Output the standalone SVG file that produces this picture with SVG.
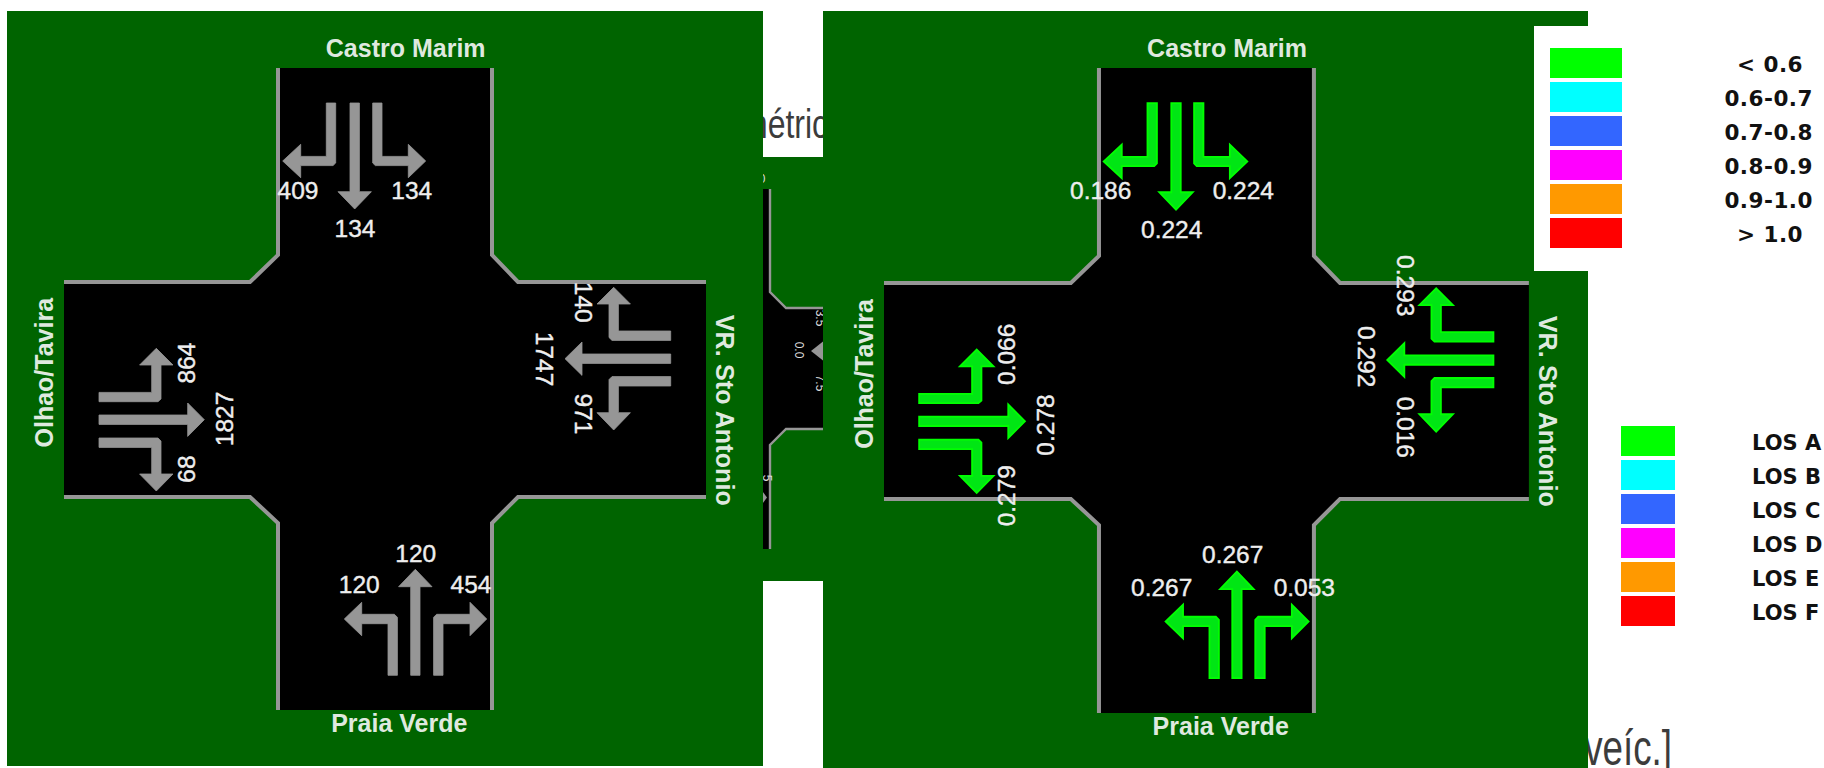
<svg xmlns="http://www.w3.org/2000/svg" xmlns:xlink="http://www.w3.org/1999/xlink" width="1824" height="768" viewBox="0 0 1824 768">
<style>
text{font-family:"Liberation Sans",Arial,sans-serif}
.panel{fill:#006400}
.pave{fill:#000}
.kerb{fill:none;stroke:#969696;stroke-width:4}
.num{fill:#eee;stroke:#eee;stroke-width:.4;font-size:24.5px;text-anchor:middle}
.road{fill:#dfe9df;font-size:25px;font-weight:bold;text-anchor:middle}
.small{fill:#ddd;font-size:12px;text-anchor:middle}
.body{fill:#3c3c3c;font-size:40px}
.lg{fill:#111;font-family:"DejaVu Sans",sans-serif;font-weight:bold;font-size:21px}
.c{text-anchor:middle;font-size:21.5px;letter-spacing:.5px}
.grey{fill:#969696}
.wide{stroke:#969696;stroke-width:.8}
.lit{fill:#00e614;stroke:#00ff00;stroke-width:1.8}
</style>
<defs>
<g id="roadway">
<path class="pave" d="M278 68H492V255L518 282H706V497H518L492 523V710H278V523L250 497H64V282H250L278 255Z"/>
<path class="kerb" d="M278 68V255L250 282H64M492 68V255L518 282H706M64 497H250L278 523V710M706 497H518L492 523V710"/>
</g>
<g id="flow">
<path d="M326.3 103H335.7V163L333 165.6H300.7V177.7L282.7 161L300.7 144.3V156.4H326.3Z"/>
<path d="M350 103H359.4V191.7H371.4L354.7 209L338 191.7H350Z"/>
<path d="M372.7 103H382V156.4H408.3V144.3L425.7 161L408.3 177.7V165.6H375.3L372.7 163Z"/>
<path d="M99 392.4H151.7V365H139.6L156.3 348.3L173 365H161V399L158 401.7H99Z"/>
<path d="M99 415H187.7V403L204.3 419.7L187.7 436.4V424.4H99Z"/>
<path d="M99 438H158L161 441V474H173L156.3 491L139.6 474H151.7V447.4H99Z"/>
<path d="M670.7 331H618.4V304H630.4L613.7 287.3L597 304H609V337.5L612 340.4H670.7Z"/>
<path d="M670.7 354H582V342L565 358.7L582 375.4V363.4H670.7Z"/>
<path d="M670.7 376.6H612L609 379.6V412.7H597L613.7 430L630.4 412.7H618.4V386H670.7Z"/>
<path d="M397.4 675.3H388V623.7H361.7V635.7L344.3 619L361.7 602.3V614.3H394.4L397.4 617.3Z"/>
<path d="M410.7 675.3H420V586.7H432L415.3 569.3L398.6 586.7H410.7Z"/>
<path d="M433.6 675.3H443V623.7H470V635.7L486.7 619L470 602.3V614.3H436.6L433.6 617.3Z"/>
</g>
</defs>
<rect width="1824" height="768" fill="#fff"/>

<g id="background-text">
<text class="body" transform="translate(741 137.5) scale(.8 1)">métric</text>
<text class="body" style="font-size:50px;text-anchor:end" transform="translate(1672 765) scale(.735 1)">veíc.]</text>
</g>

<g id="hidden-intersection">
<rect class="panel" x="763" y="157" width="60" height="424"/>
<path class="pave" d="M763 189H770V292L786 308H823V429H786L770 445V549H763Z"/>
<path fill="none" stroke="#969696" stroke-width="2.4" d="M770 189V292L786 308H823M823 429H786L770 445V549"/>
<path class="grey" d="M811 351L823 341.5V360.5Z"/>
<path class="grey" d="M760 488L767 497.5L760 507Z"/>
<text class="small" transform="translate(795 350) rotate(90)">0.0</text>
<text class="small" transform="translate(816 318) rotate(90)">3.5</text>
<text class="small" transform="translate(816 383) rotate(90)">7.5</text>
<text class="small" x="762" y="183">0</text>
<text class="small" transform="translate(763 478) rotate(90)">5</text>
</g>

<g id="panel-volume">
<rect class="panel" x="7" y="11" width="756" height="755"/>
<use xlink:href="#roadway" href="#roadway"/>
<g id="connectors-volume" class="grey wide"><use xlink:href="#flow" href="#flow"/></g>
<g id="node-castro-marim-volume">
<text class="road" x="405.7" y="56.7">Castro Marim</text>
<text class="num" x="298" y="199">409</text>
<text class="num" x="355" y="237">134</text>
<text class="num" x="411.7" y="199">134</text>
</g>
<g id="node-olhao-tavira-volume">
<text class="road" transform="translate(53.3 372.7) rotate(-90)">Olhao/Tavira</text>
<text class="num" transform="translate(195 363) rotate(-90)">864</text>
<text class="num" transform="translate(233 419) rotate(-90)">1827</text>
<text class="num" transform="translate(195 469) rotate(-90)">68</text>
</g>
<g id="node-vr-sto-antonio-volume">
<text class="road" textLength="191" transform="translate(716 410.3) rotate(90)">VR. Sto Antonio</text>
<text class="num" transform="translate(575 302.3) rotate(90)">140</text>
<text class="num" transform="translate(536 359) rotate(90)">1747</text>
<text class="num" transform="translate(575 414) rotate(90)">971</text>
</g>
<g id="node-praia-verde-volume">
<text class="road" x="399.3" y="732.3">Praia Verde</text>
<text class="num" x="359.3" y="593.3">120</text>
<text class="num" x="415.7" y="562.3">120</text>
<text class="num" x="471" y="593.3">454</text>
</g>
</g>

<g id="panel-ratio">
<rect class="panel" x="823" y="11" width="765" height="757"/>
<g transform="translate(884 68) scale(1.0045) translate(-64 -68)">
<use xlink:href="#roadway" href="#roadway"/>
<g id="connectors-ratio" class="lit"><use xlink:href="#flow" href="#flow"/></g>
</g>
<g id="node-castro-marim-ratio">
<text class="road" x="1227" y="56.7">Castro Marim</text>
<text class="num" x="1100.7" y="199.3">0.186</text>
<text class="num" x="1171.7" y="238.3">0.224</text>
<text class="num" x="1243.3" y="199.3">0.224</text>
</g>
<g id="node-olhao-tavira-ratio">
<text class="road" transform="translate(873.3 374) rotate(-90)">Olhao/Tavira</text>
<text class="num" transform="translate(1015 354.3) rotate(-90)">0.066</text>
<text class="num" transform="translate(1054 425) rotate(-90)">0.278</text>
<text class="num" transform="translate(1015 495.7) rotate(-90)">0.279</text>
</g>
<g id="node-vr-sto-antonio-ratio">
<text class="road" textLength="191" transform="translate(1539.3 411.3) rotate(90)">VR. Sto Antonio</text>
<text class="num" transform="translate(1396.7 285.7) rotate(90)">0.293</text>
<text class="num" transform="translate(1358.3 356.7) rotate(90)">0.292</text>
<text class="num" transform="translate(1396.7 427.3) rotate(90)">0.016</text>
</g>
<g id="node-praia-verde-ratio">
<text class="road" x="1220.7" y="735">Praia Verde</text>
<text class="num" x="1161.7" y="595.7">0.267</text>
<text class="num" x="1232.7" y="563.3">0.267</text>
<text class="num" x="1304.3" y="595.7">0.053</text>
</g>
</g>

<g id="legend-ratio">
<rect x="1534" y="26" width="290" height="245" fill="#fff"/>
<rect x="1550" y="48" width="72" height="30" fill="#00ff00"/>
<rect x="1550" y="82" width="72" height="30" fill="#00ffff"/>
<rect x="1550" y="116" width="72" height="30" fill="#3366ff"/>
<rect x="1550" y="150" width="72" height="30" fill="#ff00ff"/>
<rect x="1550" y="184" width="72" height="30" fill="#ff9900"/>
<rect x="1550" y="218" width="72" height="30" fill="#ff0000"/>
<text class="lg c" x="1770" y="71.5">&lt; 0.6</text>
<text class="lg c" x="1768.7" y="105.5">0.6-0.7</text>
<text class="lg c" x="1768.7" y="139.5">0.7-0.8</text>
<text class="lg c" x="1768.7" y="173.5">0.8-0.9</text>
<text class="lg c" x="1768.7" y="207.5">0.9-1.0</text>
<text class="lg c" x="1770" y="241.5">&gt; 1.0</text>
</g>

<g id="legend-los">
<rect x="1621" y="426" width="54" height="30" fill="#00ff00"/>
<rect x="1621" y="460" width="54" height="30" fill="#00ffff"/>
<rect x="1621" y="494" width="54" height="30" fill="#3366ff"/>
<rect x="1621" y="528" width="54" height="30" fill="#ff00ff"/>
<rect x="1621" y="562" width="54" height="30" fill="#ff9900"/>
<rect x="1621" y="596" width="54" height="30" fill="#ff0000"/>
<text class="lg" x="1752" y="450">LOS A</text>
<text class="lg" x="1752" y="484">LOS B</text>
<text class="lg" x="1752" y="518">LOS C</text>
<text class="lg" x="1752" y="552">LOS D</text>
<text class="lg" x="1752" y="586">LOS E</text>
<text class="lg" x="1752" y="620">LOS F</text>
</g>
</svg>
